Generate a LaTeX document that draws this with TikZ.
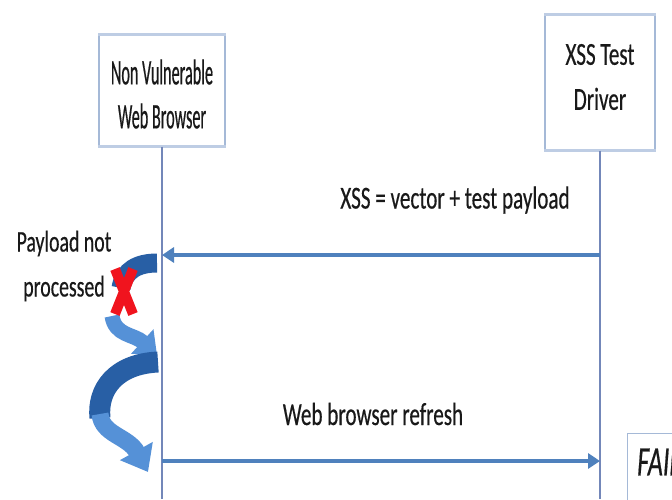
\documentclass[tikz,border=0pt]{standalone}
\usepackage{fontspec}
\setmainfont{Carlito}
\newfontfamily\calA[FakeStretch=0.66,FakeBold=0.4]{Carlito}
\newfontfamily\calB[FakeStretch=0.45,FakeBold=0.4]{Carlito}
\newfontfamily\calF[FakeStretch=0.62,FakeBold=0.4]{Carlito}
\usetikzlibrary{arrows.meta}
\definecolor{boxline}{RGB}{165,185,215}
\definecolor{boxedge}{RGB}{190,205,228}
\definecolor{lifeline}{RGB}{115,135,185}
\definecolor{msgblue}{RGB}{79,129,189}
\definecolor{curvedark}{RGB}{40,95,165}
\definecolor{curvelight}{RGB}{85,145,215}
\definecolor{xred}{RGB}{240,20,30}
\definecolor{txt}{RGB}{25,25,25}
\begin{document}
\begin{tikzpicture}[x=1pt,y=-1pt,
  actor/.style={draw=boxline, line width=1.2pt, fill=white, inner sep=0pt},
  lifeln/.style={draw=lifeline, line width=1.8pt},
  msg/.style={draw=msgblue, line width=4pt, -{Triangle[length=12pt,width=15pt]}},
  lbl/.style={text=txt, inner sep=0pt},
  bendarrow/.style={line width=15pt, -{Triangle[length=20pt,width=32pt]}}
]
\useasboundingbox[fill=white] (0,0) rectangle (672,499);

% actors
\node[actor, minimum width=126pt, minimum height=111pt] (nvb) at (162,90.5) {};
\node[lbl, align=center, font=\calB\fontsize{36}{44}\selectfont] (nvbt) at (162,94) {Non Vulnerable\\Web Browser};
\node[actor, minimum width=110pt, minimum height=135pt] (drv) at (600,82.5) {};
\node[lbl, align=center, font=\calA\fontsize{32}{45}\selectfont] (drvt) at (600,77) {XSS Test\\Driver};
\foreach \b in {nvb,drv}{
  \draw[boxedge, line width=3pt] (\b.north west) -- (\b.north east);
  \draw[boxedge, line width=3pt] (\b.south west) -- (\b.south east);
}

% lifelines
\coordinate (l1b) at (162,499);
\coordinate (l2b) at (600,499);
\draw[lifeln] (nvb.south) -- (l1b);
\draw[lifeln] (drv.south) -- (l2b);

% messages
\coordinate (m1a) at (600,255);
\coordinate (m1b) at (162,255);
\draw[msg] (m1a) -- (m1b);
\node[lbl, font=\calA\fontsize{32}{36}\selectfont] (t1) at (455,200) {XSS = vector + test payload};

\coordinate (m2a) at (162,461);
\coordinate (m2b) at (600,461);
\draw[msg] (m2a) -- (m2b);
\node[lbl, font=\calA\fontsize{32}{36}\selectfont] (t2) at (373,414) {Web browser refresh};

% FAIL box (cut by the frame)
\node[draw=boxline, line width=1.2pt, minimum width=100pt, minimum height=100pt,
      anchor=north west, inner sep=0pt] (fail) at (627,433) {};
\node[lbl, anchor=west, font=\calF\itshape\fontsize{42}{42}\selectfont] (failt) at (637,462) {FAIL};

% curved arrows
\draw[curvedark, line width=19pt] (157,263) .. controls (138,263) and (124,270) .. (121,288);
\draw[curvelight, bendarrow] (112,316) .. controls (115,336) and (134,334) .. (157,355);
\draw[curvedark, line width=21pt] (158,362) .. controls (115,364) and (97,390) .. (100,418);
\draw[curvelight, line width=17pt, -{Triangle[length=24pt,width=36pt]}] (100,414) .. controls (102,435) and (128,436) .. (148,472);

% label and red cross
\node[lbl, align=center, font=\calA\fontsize{30}{45}\selectfont] (pnp) at (64,266) {Payload not\\processed};
\draw[xred, line width=10pt] (115,269) -- (133,314) (133,269) -- (115,314);
\end{tikzpicture}
\end{document}
